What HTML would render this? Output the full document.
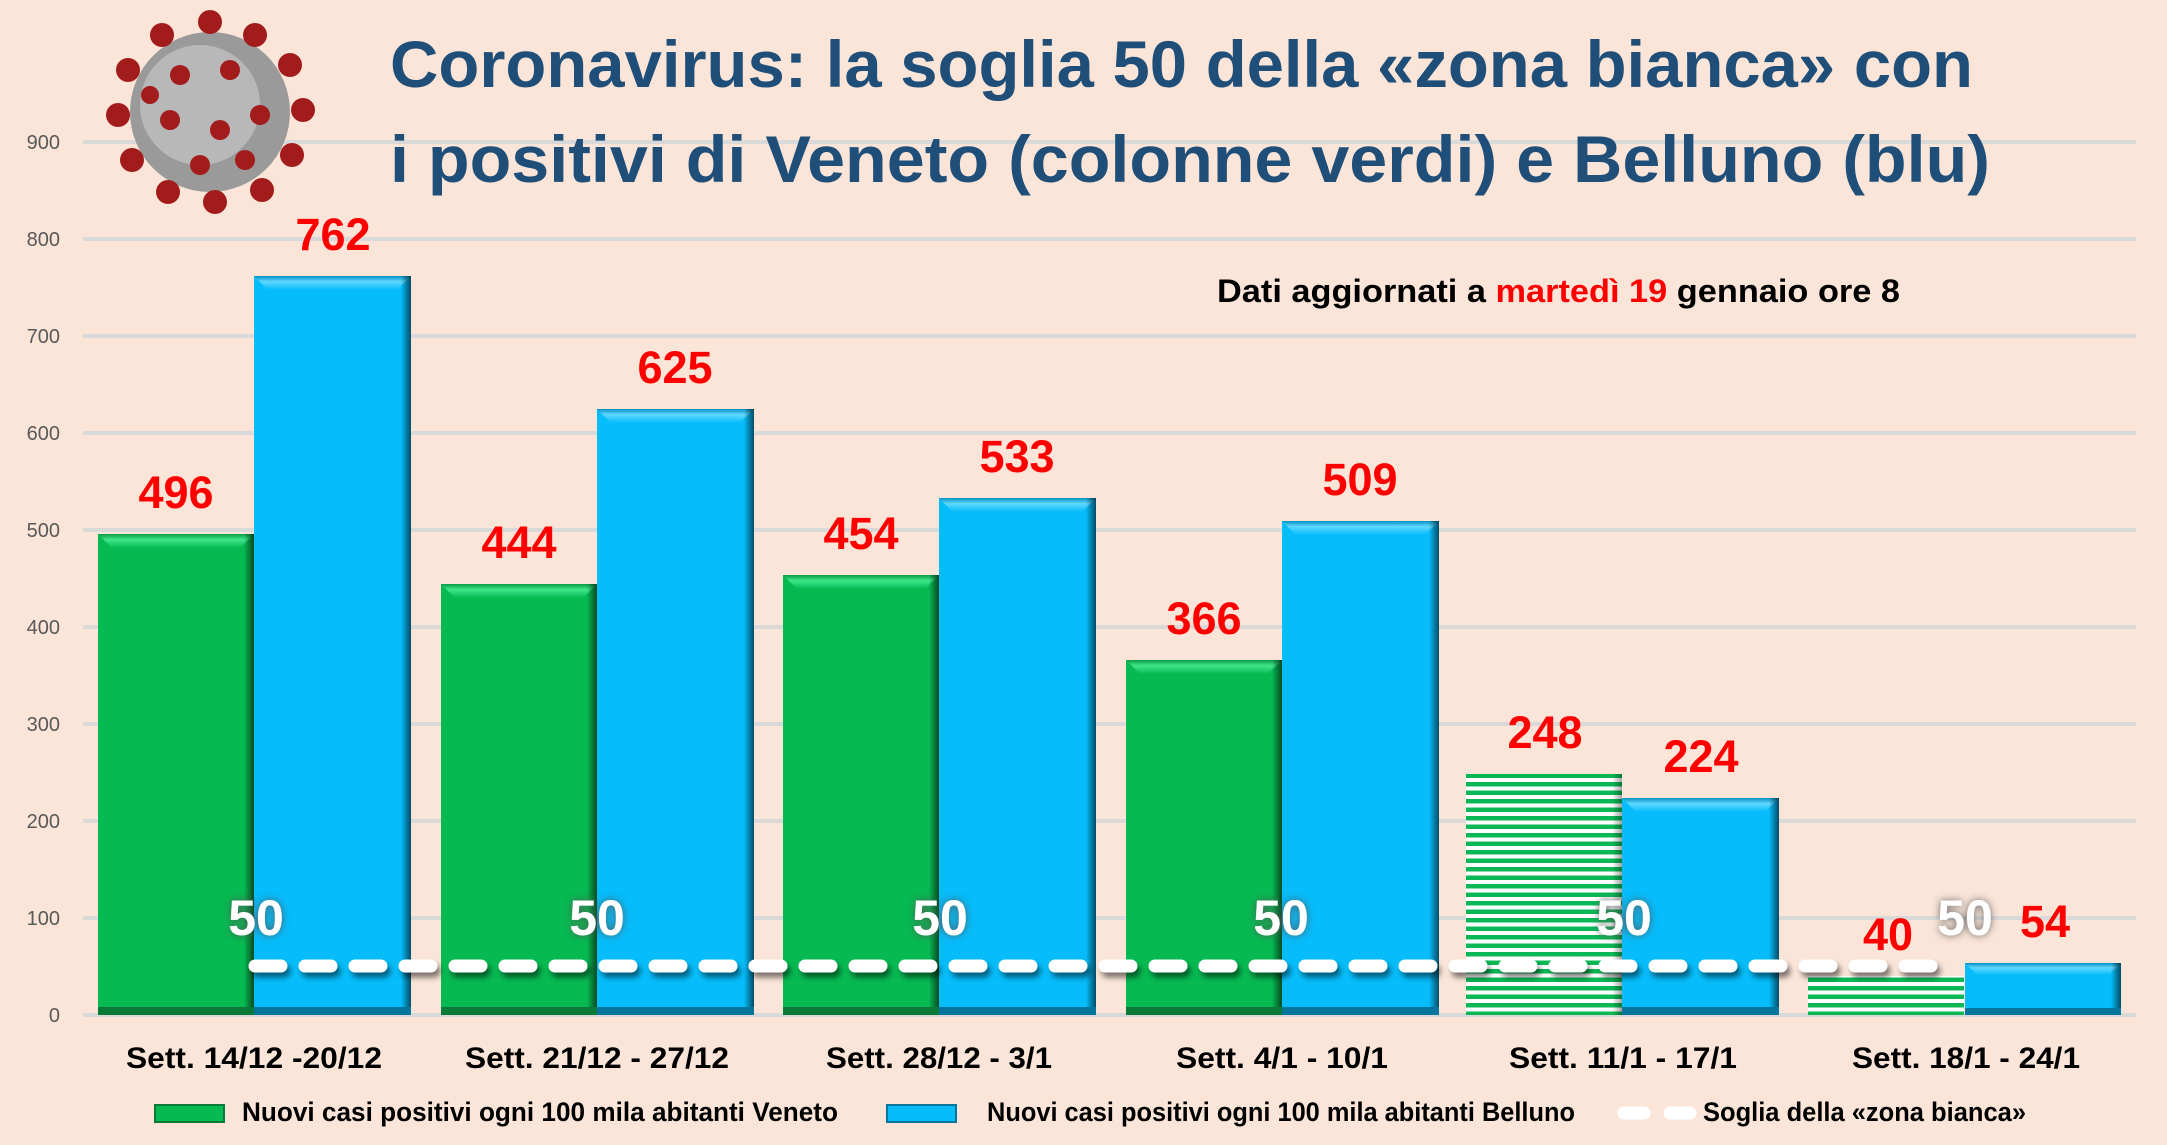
<!DOCTYPE html>
<html><head><meta charset="utf-8"><style>
html,body{margin:0;padding:0;background:#fae5d8;}
svg{display:block;font-family:"Liberation Sans Narrow","Liberation Sans",sans-serif;}
</style></head><body>
<svg width="2167" height="1145" viewBox="0 0 2167 1145" xmlns="http://www.w3.org/2000/svg">
<defs>
<linearGradient id="gTop" x1="0" y1="0" x2="0" y2="1"><stop offset="0" stop-color="#0a9a45"/><stop offset="0.4" stop-color="#3ee68a"/><stop offset="1" stop-color="#06b951"/></linearGradient>
<linearGradient id="bTop" x1="0" y1="0" x2="0" y2="1"><stop offset="0" stop-color="#0590c4"/><stop offset="0.4" stop-color="#5fd8ff"/><stop offset="1" stop-color="#06bcfa"/></linearGradient>
<linearGradient id="rEdge" x1="0" y1="0" x2="1" y2="0"><stop offset="0" stop-color="#000" stop-opacity="0"/><stop offset="1" stop-color="#000" stop-opacity="0.6"/></linearGradient>
<pattern id="stripe" width="10" height="8.5" patternUnits="userSpaceOnUse"><rect width="10" height="8.5" fill="#ffffff"/><rect y="0" width="10" height="4.5" fill="#09b854"/></pattern>
<filter id="blur" filterUnits="userSpaceOnUse" x="0" y="900" width="2167" height="120"><feGaussianBlur stdDeviation="3"/></filter>
<filter id="glow" x="-30%" y="-30%" width="160%" height="160%"><feDropShadow dx="0" dy="0" stdDeviation="4" flood-color="#555" flood-opacity="0.9"/></filter>
</defs>
<rect width="2167" height="1145" fill="#fae5d8"/>
<g stroke="#d9d9d9" stroke-width="4">
<line x1="83" y1="1015" x2="2136" y2="1015"/>
<line x1="83" y1="918" x2="2136" y2="918"/>
<line x1="83" y1="821" x2="2136" y2="821"/>
<line x1="83" y1="724" x2="2136" y2="724"/>
<line x1="83" y1="627" x2="2136" y2="627"/>
<line x1="83" y1="530" x2="2136" y2="530"/>
<line x1="83" y1="433" x2="2136" y2="433"/>
<line x1="83" y1="336" x2="2136" y2="336"/>
<line x1="83" y1="239" x2="2136" y2="239"/>
<line x1="83" y1="142" x2="2136" y2="142"/>
</g>
<g font-size="20" fill="#595959" text-anchor="end" font-family="Liberation Sans, sans-serif">
<text x="60" y="1022">0</text><text x="60" y="925">100</text><text x="60" y="828">200</text><text x="60" y="731">300</text><text x="60" y="634">400</text><text x="60" y="537">500</text><text x="60" y="440">600</text><text x="60" y="343">700</text><text x="60" y="246">800</text><text x="60" y="149">900</text>
</g>
<g>
<circle cx="210" cy="112" r="80" fill="#9a9a9a"/>
<circle cx="200" cy="105" r="60" fill="#b8b8b8"/>
<g fill="#a31c1c">
<circle cx="210" cy="22" r="12"/><circle cx="255" cy="35" r="12"/><circle cx="290" cy="65" r="12"/><circle cx="303" cy="110" r="12"/><circle cx="292" cy="155" r="12"/><circle cx="262" cy="190" r="12"/><circle cx="215" cy="202" r="12"/><circle cx="168" cy="192" r="12"/><circle cx="132" cy="160" r="12"/><circle cx="118" cy="115" r="12"/><circle cx="128" cy="70" r="12"/><circle cx="162" cy="35" r="12"/>
<circle cx="180" cy="75" r="10"/><circle cx="230" cy="70" r="10"/><circle cx="260" cy="115" r="10"/><circle cx="220" cy="130" r="10"/><circle cx="170" cy="120" r="10"/><circle cx="200" cy="165" r="10"/><circle cx="245" cy="160" r="10"/><circle cx="150" cy="95" r="9"/>
</g>
</g>
<g fill="#1f4e79" font-weight="bold" font-size="66" font-family="Liberation Sans, sans-serif">
<text x="390" y="87" textLength="1583" lengthAdjust="spacingAndGlyphs">Coronavirus: la soglia 50 della «zona bianca» con</text>
<text x="390" y="182" textLength="1600" lengthAdjust="spacingAndGlyphs">i positivi di Veneto (colonne verdi) e Belluno (blu)</text>
</g>
<text x="1217" y="302" font-size="32" font-weight="bold" textLength="683" lengthAdjust="spacingAndGlyphs" fill="#000">Dati aggiornati a <tspan fill="#ff0000">martedì 19</tspan> gennaio ore 8</text>
<g>
<rect x="98" y="534" width="156" height="481" fill="#06b951"/><path d="M98 534h156l-14 14h-128z" fill="url(#gTop)"/><rect x="244" y="534" width="10" height="481" fill="url(#rEdge)"/><rect x="98" y="1007" width="156" height="8" fill="#067a36"/>
<rect x="254" y="276" width="157" height="739" fill="#06bcfa"/><path d="M254 276h157l-14 14h-129z" fill="url(#bTop)"/><rect x="401" y="276" width="10" height="739" fill="url(#rEdge)"/><rect x="254" y="1007" width="157" height="8" fill="#05759e"/>
<rect x="441" y="584" width="156" height="431" fill="#06b951"/><path d="M441 584h156l-14 14h-128z" fill="url(#gTop)"/><rect x="587" y="584" width="10" height="431" fill="url(#rEdge)"/><rect x="441" y="1007" width="156" height="8" fill="#067a36"/>
<rect x="597" y="409" width="157" height="606" fill="#06bcfa"/><path d="M597 409h157l-14 14h-129z" fill="url(#bTop)"/><rect x="744" y="409" width="10" height="606" fill="url(#rEdge)"/><rect x="597" y="1007" width="157" height="8" fill="#05759e"/>
<rect x="783" y="575" width="156" height="440" fill="#06b951"/><path d="M783 575h156l-14 14h-128z" fill="url(#gTop)"/><rect x="929" y="575" width="10" height="440" fill="url(#rEdge)"/><rect x="783" y="1007" width="156" height="8" fill="#067a36"/>
<rect x="939" y="498" width="157" height="517" fill="#06bcfa"/><path d="M939 498h157l-14 14h-129z" fill="url(#bTop)"/><rect x="1086" y="498" width="10" height="517" fill="url(#rEdge)"/><rect x="939" y="1007" width="157" height="8" fill="#05759e"/>
<rect x="1126" y="660" width="156" height="355" fill="#06b951"/><path d="M1126 660h156l-14 14h-128z" fill="url(#gTop)"/><rect x="1272" y="660" width="10" height="355" fill="url(#rEdge)"/><rect x="1126" y="1007" width="156" height="8" fill="#067a36"/>
<rect x="1282" y="521" width="157" height="494" fill="#06bcfa"/><path d="M1282 521h157l-14 14h-129z" fill="url(#bTop)"/><rect x="1429" y="521" width="10" height="494" fill="url(#rEdge)"/><rect x="1282" y="1007" width="157" height="8" fill="#05759e"/>
<rect x="1466" y="774" width="156" height="241" fill="url(#stripe)"/><rect x="1612" y="774" width="10" height="241" fill="url(#rEdge)" opacity="0.6"/>
<rect x="1622" y="798" width="157" height="217" fill="#06bcfa"/><path d="M1622 798h157l-14 14h-129z" fill="url(#bTop)"/><rect x="1769" y="798" width="10" height="217" fill="url(#rEdge)"/><rect x="1622" y="1007" width="157" height="8" fill="#05759e"/>
<rect x="1808" y="976" width="156" height="39" fill="url(#stripe)"/>
<rect x="1965" y="963" width="156" height="52" fill="#06bcfa"/><path d="M1965 963h156l-12 12h-132z" fill="url(#bTop)"/><rect x="2111" y="963" width="10" height="52" fill="url(#rEdge)"/><rect x="1965" y="1008" width="156" height="7" fill="#05759e"/>
</g>
<!-- dashed threshold -->
<path d="M258 971H1948" stroke="#000" stroke-opacity="0.5" stroke-width="13" stroke-linecap="round" stroke-dasharray="26 24" fill="none" filter="url(#blur)"/>
<path d="M255 966H1945" stroke="#fff" stroke-width="13" stroke-linecap="round" stroke-dasharray="26 24" fill="none"/>
<g fill="#fff" font-size="50" font-weight="bold" text-anchor="middle" filter="url(#glow)">
<text x="256" y="935">50</text><text x="597" y="935">50</text><text x="940" y="935">50</text><text x="1281" y="935">50</text><text x="1624" y="935">50</text><text x="1965" y="935">50</text>
</g>
<g fill="#ff0000" font-size="45" font-weight="bold" text-anchor="middle">
<text x="176" y="508">496</text><text x="333" y="250">762</text>
<text x="519" y="558">444</text><text x="675" y="383">625</text>
<text x="861" y="549">454</text><text x="1017" y="472">533</text>
<text x="1204" y="634">366</text><text x="1360" y="495">509</text>
<text x="1545" y="748">248</text><text x="1701" y="772">224</text>
<text x="1888" y="950">40</text><text x="2045" y="937">54</text>
</g>
<g fill="#000" font-size="30" font-weight="bold" text-anchor="middle">
<text x="254" y="1068" textLength="256" lengthAdjust="spacingAndGlyphs">Sett. 14/12 -20/12</text>
<text x="597" y="1068" textLength="264" lengthAdjust="spacingAndGlyphs">Sett. 21/12 - 27/12</text>
<text x="939" y="1068" textLength="226" lengthAdjust="spacingAndGlyphs">Sett. 28/12 - 3/1</text>
<text x="1282" y="1068" textLength="212" lengthAdjust="spacingAndGlyphs">Sett. 4/1 - 10/1</text>
<text x="1623" y="1068" textLength="228" lengthAdjust="spacingAndGlyphs">Sett. 11/1 - 17/1</text>
<text x="1966" y="1068" textLength="228" lengthAdjust="spacingAndGlyphs">Sett. 18/1 - 24/1</text>
</g>
<rect x="155" y="1105" width="69" height="17" fill="#06b951" stroke="#067a36" stroke-width="2"/>
<rect x="887" y="1105" width="69" height="17" fill="#06bcfa" stroke="#05759e" stroke-width="2"/>
<path d="M1624 1113H1690" stroke="#fff" stroke-width="13" stroke-linecap="round" stroke-dasharray="20 26" fill="none"/>
<g fill="#000" font-size="27" font-weight="bold">
<text x="242" y="1121" textLength="596" lengthAdjust="spacingAndGlyphs">Nuovi casi positivi ogni 100 mila abitanti Veneto</text>
<text x="987" y="1121" textLength="588" lengthAdjust="spacingAndGlyphs">Nuovi casi positivi ogni 100 mila abitanti Belluno</text>
<text x="1703" y="1121" textLength="323" lengthAdjust="spacingAndGlyphs">Soglia della «zona bianca»</text>
</g>
</svg>
</body></html>
